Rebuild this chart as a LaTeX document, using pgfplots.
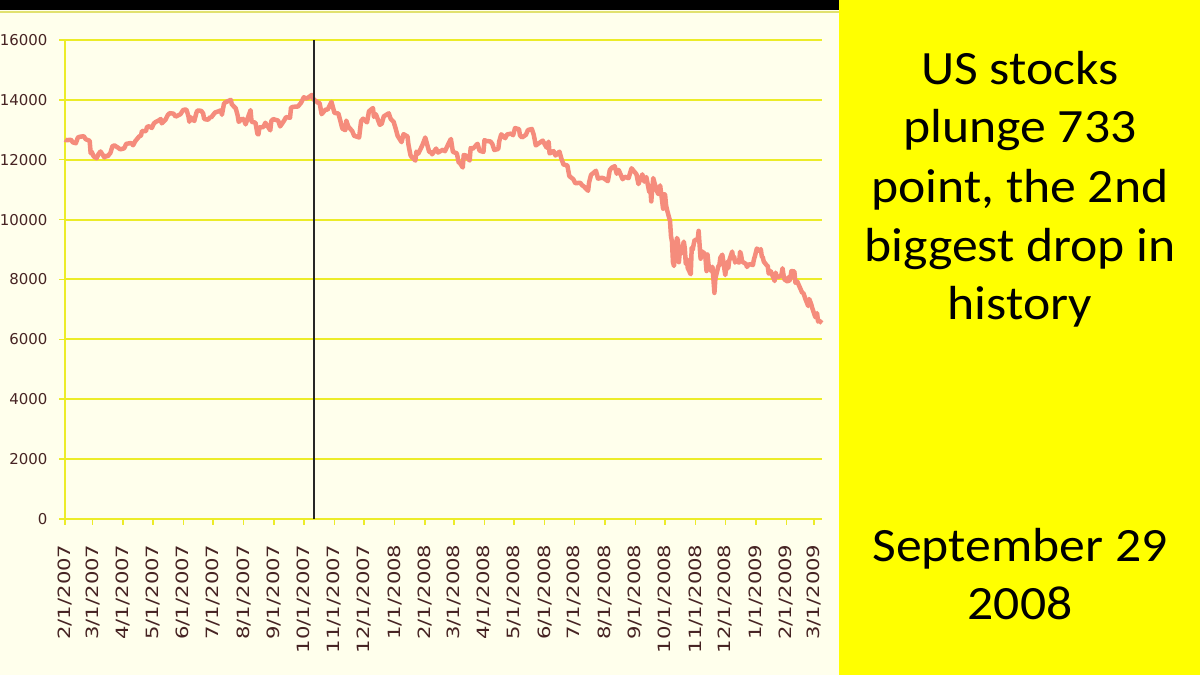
\documentclass[border=0pt]{standalone}
\usepackage{fontspec}
\usepackage{graphicx}
\usepackage{pgfplots}
\usepackage{pgfplotstable}
\pgfplotsset{compat=1.18}
\setmainfont{DejaVu Sans}
\newfontfamily\slidefont{Carlito}
\definecolor{cream}{RGB}{255,255,236}
\definecolor{gridyel}{RGB}{236,236,40}
\definecolor{slideyel}{RGB}{255,255,0}
\definecolor{dowline}{RGB}{245,140,124}
\definecolor{ticktxt}{RGB}{70,35,35}
\newcommand{\xl}[1]{\scalebox{1.25}[1]{#1}}
\newcommand{\slw}[1]{\scalebox{1.08}[1]{#1}}

% day = days since 2/1/2007, v = close
\pgfplotstableread{
d v
0 12673
1 12653
4 12661
6 12666
8 12580
11 12552
13 12741
15 12767
19 12786
21 12686
25 12632
26 12216
27 12269
29 12114
32 12050
34 12192
36 12276
40 12075
41 12133
43 12110
46 12226
48 12447
50 12481
54 12397
56 12348
60 12382
62 12530
67 12560
69 12484
71 12612
75 12773
77 12808
78 12961
82 12953
83 13089
85 13120
88 13062
90 13211
92 13265
95 13312
97 13362
98 13215
102 13346
104 13487
106 13556
110 13539
112 13441
117 13521
119 13627
120 13668
123 13676
125 13465
126 13266
127 13424
131 13295
133 13553
134 13639
138 13636
140 13545
141 13360
145 13337
147 13422
148 13409
152 13577
155 13612
158 13650
159 13502
161 13861
162 13908
166 13971
168 14000
169 13851
173 13716
175 13473
176 13265
179 13358
181 13362
183 13182
186 13468
188 13658
189 13271
193 13237
195 12861
196 12845
197 13079
201 13091
203 13236
208 12983
209 13289
211 13358
216 13306
218 13113
222 13308
224 13424
228 13403
229 13739
231 13766
236 13779
239 13896
242 14088
244 14047
246 14066
250 14164
252 14015
256 13912
258 13892
260 13522
264 13676
266 13671
270 13930
273 13567
277 13543
279 13300
281 13042
284 12987
285 13307
287 13110
291 12958
293 12799
298 12743
300 13289
302 13372
306 13249
308 13619
312 13727
313 13433
315 13518
319 13167
321 13207
323 13450
328 13551
330 13365
333 13264
335 13044
337 12800
341 12589
343 12853
347 12778
348 12501
350 12159
351 12099
355 11971
356 12270
358 12207
362 12480
364 12650
365 12743
369 12265
371 12247
372 12182
376 12373
378 12241
383 12337
385 12284
389 12570
391 12694
393 12266
397 12213
399 11893
400 11894
403 11740
404 12156
406 12145
410 11972
411 12392
413 12361
418 12533
420 12302
424 12263
425 12654
427 12626
431 12612
433 12527
435 12325
439 12362
440 12619
442 12850
446 12720
448 12848
452 12871
454 12820
456 13058
460 13020
461 12814
463 12745
467 12832
469 12992
473 13028
475 12825
477 12479
482 12594
484 12638
488 12402
490 12604
491 12209
495 12289
497 12141
501 12269
503 12029
505 11843
509 11808
511 11453
515 11350
517 11215
522 11231
524 11147
526 11100
530 10963
531 11239
533 11496
538 11632
540 11370
544 11397
546 11378
550 11284
552 11656
554 11734
557 11782
559 11532
561 11659
565 11349
567 11430
571 11386
574 11715
579 11516
581 11188
585 11511
587 11268
589 11421
592 10917
593 11059
594 10609
595 11019
596 11388
599 11016
601 10854
603 11143
606 10365
607 10851
608 10831
609 10483
610 10325
613 9955
614 9447
615 9258
616 8579
617 8451
620 9387
621 9310
622 8577
623 8979
624 8852
627 9265
628 9033
629 8519
630 8691
631 8378
634 8175
635 9065
636 8990
637 9180
638 9325
641 9319
642 9625
643 9139
644 8695
645 8943
648 8870
649 8693
650 8282
651 8835
652 8497
655 8273
656 8424
657 7997
658 7552
659 8046
662 8443
663 8479
664 8727
666 8829
669 8149
670 8419
671 8592
672 8376
673 8635
676 8934
677 8691
678 8761
679 8565
680 8629
683 8564
684 8924
685 8824
686 8604
687 8579
690 8519
691 8419
692 8468
694 8515
697 8483
698 8668
699 8776
701 9034
704 8952
705 9015
706 8769
707 8742
708 8599
711 8474
712 8448
713 8200
714 8212
715 8281
719 7949
720 8228
721 8123
722 8077
725 8116
726 8174
727 8375
728 8149
729 8000
732 7936
733 8078
734 7956
735 8063
736 8280
739 8270
740 7888
741 7939
742 7932
743 7850
747 7553
748 7556
749 7466
750 7365
753 7114
754 7350
755 7270
756 7182
757 7062
760 6763
761 6726
762 6876
763 6594
764 6627
767 6547
}\dow

\begin{document}
\begin{tikzpicture}
\fill[cream] (0,0) rectangle (839bp,675bp);
\fill[black] (0,665bp) rectangle (839bp,675bp);
\draw[line width=2bp, color={rgb,255:red,225;green,225;blue,110}] (0,663bp) -- (839bp,663bp);
\fill[slideyel] (839bp,0) rectangle (1200bp,675bp);

\begin{axis}[
    at={(65bp,156bp)}, anchor=south west,
    scale only axis, width=757bp, height=479bp,
    xmin=0, xmax=767, ymin=0, ymax=16000,
    axis x line*=bottom, axis y line*=left,
    axis line style={gridyel, line width=2bp},
    ymajorgrids, major grid style={gridyel, line width=2bp},
    tick align=outside, major tick length=6bp,
    tick style={gridyel, line width=1.5bp},
    ytick={0,2000,...,16000},
    scaled y ticks=false,
    /pgf/number format/assume math mode=true,
    /pgf/number format/1000 sep={},
    yticklabel style={font=\fontsize{15}{15}\selectfont, text=ticktxt, xshift=-8bp},
    xtick={0,28,59,89,120,150,181,212,242,273,303,334,365,394,425,455,486,516,547,578,608,639,669,700,731,759},
    xticklabels={\xl{2/1/2007},\xl{3/1/2007},\xl{4/1/2007},\xl{5/1/2007},\xl{6/1/2007},\xl{7/1/2007},\xl{8/1/2007},\xl{9/1/2007},\xl{10/1/2007},\xl{11/1/2007},\xl{12/1/2007},\xl{1/1/2008},\xl{2/1/2008},\xl{3/1/2008},\xl{4/1/2008},\xl{5/1/2008},\xl{6/1/2008},\xl{7/1/2008},\xl{8/1/2008},\xl{9/1/2008},\xl{10/1/2008},\xl{11/1/2008},\xl{12/1/2008},\xl{1/1/2009},\xl{2/1/2009},\xl{3/1/2009}},
    xticklabel style={rotate=90, anchor=east, font=\fontsize{17}{17}\selectfont, text=ticktxt, xshift=-16bp},
    clip=false,
]
\addplot[dowline, line width=4.5bp, line join=round, mark=none] table[x=d, y=v] {\dow};
\addplot[black!85, line width=1.8bp, mark=none] coordinates {(252,0) (252,16000)};
\end{axis}

\begin{scope}[every node/.style={anchor=base, font=\slidefont\fontsize{48}{58}\selectfont, text=black, inner sep=0pt}]
\node at (1020bp,590bp) {\slw{US stocks}};
\node at (1020bp,532bp) {\slw{plunge 733}};
\node at (1020bp,472bp) {\slw{point, the 2nd}};
\node at (1020bp,413bp) {\slw{biggest drop in}};
\node at (1020bp,355bp) {\slw{history}};
\node at (1020bp,113bp) {\slw{September 29}};
\node at (1020bp,55bp) {\slw{2008}};
\end{scope}

\pgfresetboundingbox
\path[use as bounding box] (0,0) rectangle (1200bp,675bp);
\end{tikzpicture}
\end{document}
